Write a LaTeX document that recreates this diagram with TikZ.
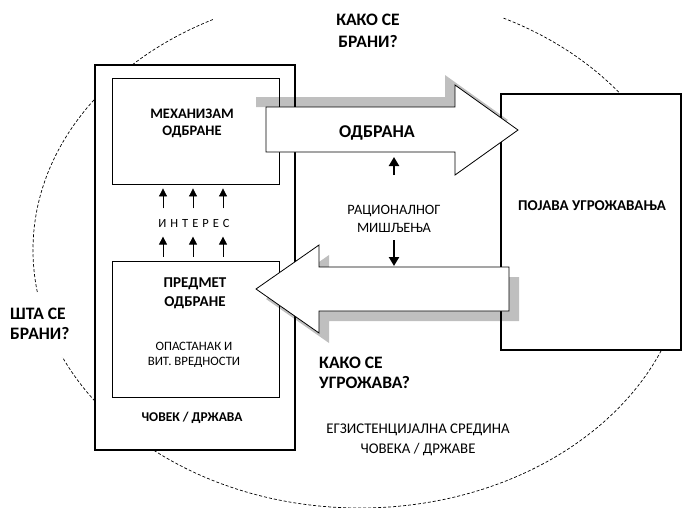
\documentclass[tikz,border=0pt]{standalone}
\usepackage{fontspec}
\setmainfont{Carlito}
\usetikzlibrary{arrows.meta, positioning}
\tikzset{
    frame/.style={rectangle, draw=black, line width=2.2pt, fill=white},
    panel/.style={rectangle, draw=black, line width=0.8pt, fill=white},
    blockarrow/.style={draw=black, line width=0.8pt, fill=white},
    blockshadow/.style={fill=black, opacity=0.25},
    headtext/.style={font=\bfseries\fontsize{14.5}{18.5}\selectfont, align=center, inner sep=0pt},
    asktext/.style={font=\bfseries\fontsize{17.5}{21}\selectfont, align=left, inner sep=0pt},
    plaintext/.style={font=\fontsize{12.5}{17}\selectfont, align=center, inner sep=0pt},
    interest/.style={-{Triangle[length=8pt, width=8pt]}, line width=0.8pt},
    thought/.style={-{Triangle[length=9pt, width=10pt]}, line width=2.6pt},
    milieu/.style={draw=black, line width=0.7pt, dash pattern=on 3pt off 2pt}
}

\begin{document}
\begin{tikzpicture}[x=1pt, y=-1pt]
    \useasboundingbox (0,0) rectangle (682,507);

    % existential milieu
    \draw[milieu] (360,250) ellipse [x radius=327, y radius=258];
    \fill[white] (213,0) rectangle (502,30);
    \fill[white] (5,293) rectangle (75,357);

    % boxes
    \node (person) [frame, minimum width=200, minimum height=385] at (195,257.5) {};
    \node (mechanism) [panel, minimum width=167, minimum height=106] at (195.5,131) {};
    \node (subject) [panel, minimum width=167, minimum height=136] at (195.5,329) {};
    \node (threat) [frame, minimum width=180, minimum height=256] at (591,222) {};

    % block arrows
    \fill[blockshadow] (256,97) -- (445,97) -- (445,75) -- (508,120) -- (480,140) -- (266,140) -- (266,107) -- (256,107) -- cycle;
    \fill[blockshadow] (266,299) -- (329,255) -- (329,277) -- (519,277) -- (519,321) -- (329,321) -- (329,343) -- cycle;
    \draw[blockarrow] (266,107) -- (455,107) -- (455,85) -- (518,130) -- (455,175) -- (455,152) -- (266,152) -- cycle;
    \draw[blockarrow] (256,289) -- (319,245) -- (319,267) -- (509,267) -- (509,311) -- (319,311) -- (319,333) -- cycle;
    \coordinate (shaftlow) at (394,152);
    \coordinate (shafthigh) at (394,267);

    % texts
    \node (mechtext) [headtext, font=\bfseries\fontsize{14.5}{17.5}\selectfont] at (192,123.5) {МЕХАНИЗАМ\\ОДБРАНЕ};
    \node (interesttext) [plaintext, font=\fontsize{12.5}{15}\selectfont] at (194,223) {\spaceskip=4pt\relax И Н Т Е Р Е С};
    \node (subjtext) [headtext, font=\bfseries\fontsize{15}{19}\selectfont] at (195,293) {ПРЕДМЕТ\\ОДБРАНЕ};
    \node (survival) [plaintext, font=\fontsize{12.8}{15.5}\selectfont] at (194,355) {ОПАСТАНАК И\\ВИТ. ВРЕДНОСТИ};
    \node (persontext) [headtext, font=\bfseries\fontsize{13.4}{16}\selectfont] at (192,418) {ЧОВЕК / ДРЖАВА};
    \node (defence) [headtext, font=\bfseries\fontsize{18}{20}\selectfont] at (377,132.5) {ОДБРАНА};
    \node (rational) [plaintext, font=\fontsize{14.3}{18}\selectfont] at (394,219) {РАЦИОНАЛНОГ\\МИШЉЕЊА};
    \node (threattext) [headtext, font=\bfseries\fontsize{15}{18}\selectfont] at (592,206) {ПОЈАВА УГРОЖАВАЊА};
    \node (howdefend) [asktext, font=\bfseries\fontsize{17.5}{22}\selectfont, align=center] at (368,31) {КАКО СЕ\\БРАНИ?};
    \node (whatdefend) [asktext, font=\bfseries\fontsize{17.5}{20}\selectfont, anchor=west] at (10,323.5) {ШТА СЕ\\БРАНИ?};
    \node (howthreat) [asktext, font=\bfseries\fontsize{17.5}{20}\selectfont, anchor=west] at (319,373) {КАКО СЕ\\УГРОЖАВА?};
    \node (milieutext) [plaintext, font=\fontsize{14.8}{20}\selectfont] at (418,440) {ЕГЗИСТЕНЦИЈАЛНА СРЕДИНА\\ЧОВЕКА / ДРЖАВЕ};

    % arrows
    \foreach \dx in {-32.5,-2.5,27.5} {
        \draw[interest] ([xshift=\dx pt, yshift=-24pt]mechanism.south) -- ++(0,-20);
        \draw[interest] ([xshift=\dx pt, yshift=4pt]subject.north) -- ++(0,-20);
    }
    \draw[thought] ([yshift=-23pt]shaftlow) -- ([yshift=-5pt]shaftlow);
    \draw[thought] ([yshift=27pt]shafthigh) -- ([yshift=1pt]shafthigh);

\end{tikzpicture}
\end{document}
